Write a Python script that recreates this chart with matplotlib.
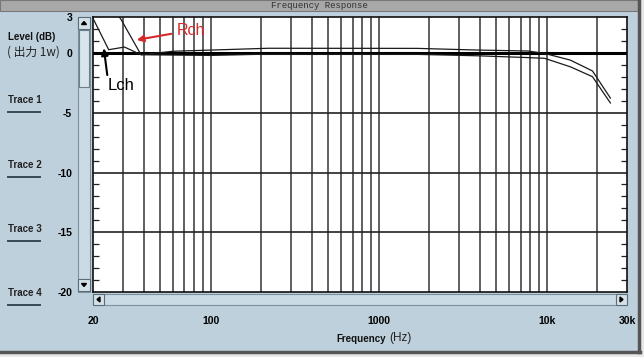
import matplotlib.pyplot as plt
import numpy as np
from matplotlib.patches import Rectangle, Polygon
from matplotlib.ticker import FixedLocator, NullFormatter

plt.rcParams['axes.unicode_minus'] = False

# data
lch_f = [20, 24.8, 30.8, 38.6, 100, 200, 1700, 3900, 7700, 9700, 13800, 18700, 23900]
lch_db = [2.9, 0.28, 0.5, -0.14, -0.2, -0.1, -0.11, -0.23, -0.38, -0.44, -1.15, -1.98, -4.18]
rch_f = [20, 25, 29.4, 38.6, 60, 220, 1700, 3900, 7700, 9700, 13800, 18700, 23900]
rch_db = [5.5, 4.2, 2.8, -0.14, 0.15, 0.4, 0.39, 0.25, 0.17, -0.03, -0.59, -1.5, -3.77]

xticks = [20, 100, 1000, 10000, 30000]
xticklabels = ['20', '100', '1000', '10k', '30k']
yticks = [3, 0, -5, -10, -15, -20]
trace_names = ['Trace 1', 'Trace 2', 'Trace 3', 'Trace 4']
trace_y = [100, 165, 229, 293]

W, H = 644, 357
bgc = '#bdd0dc'
fig = plt.figure(figsize=(W / 100, H / 100), dpi=100)
fig.patch.set_facecolor('#e8e8e8')

# window decoration in pixel coords
bg = fig.add_axes([0, 0, 1, 1], zorder=0)
bg.set_xlim(0, W)
bg.set_ylim(H, 0)
bg.axis('off')
bg.add_patch(Rectangle((0, 0), 640, 352, facecolor=bgc, edgecolor='none'))
bg.plot([639, 639], [0, 352], color='#555555', lw=2.5)
bg.plot([0, 640], [351.5, 351.5], color='#555555', lw=2.5)
bg.add_patch(Rectangle((0, 0), 638, 11, facecolor='#a8a8a8', edgecolor='#777777', lw=0.8))
bg.text(319, 5.5, 'Frequency Response', ha='center', va='center', fontsize=6.5,
        family='Liberation Mono', color='#303030')

# vertical scrollbar
bg.add_patch(Rectangle((78, 17), 12, 275, facecolor='#cbdbe5', edgecolor='#7d8f9a', lw=0.8))
bg.add_patch(Rectangle((79, 30), 10, 57, facecolor='#d8e5ec', edgecolor='#6e808b', lw=0.8))
bg.add_patch(Rectangle((78, 17), 12, 12, facecolor='#d4e1e8', edgecolor='#5d6d77', lw=0.8))
bg.add_patch(Rectangle((78, 279), 12, 12, facecolor='#d4e1e8', edgecolor='#5d6d77', lw=0.8))
bg.add_patch(Polygon([(81.5, 24.5), (86.5, 24.5), (84, 21.5)], color='black'))
bg.add_patch(Polygon([(81.5, 283.5), (86.5, 283.5), (84, 286.5)], color='black'))
# horizontal scrollbar
bg.add_patch(Rectangle((93, 294), 534, 11, facecolor='#cbdbe5', edgecolor='#7d8f9a', lw=0.8))
bg.add_patch(Rectangle((93, 294), 11, 11, facecolor='#d4e1e8', edgecolor='#5d6d77', lw=0.8))
bg.add_patch(Rectangle((616, 294), 11, 11, facecolor='#d4e1e8', edgecolor='#5d6d77', lw=0.8))
bg.add_patch(Polygon([(100, 297), (100, 302), (97, 299.5)], color='black'))
bg.add_patch(Polygon([(620, 297), (620, 302), (623, 299.5)], color='black'))

# left panel labels
bg.text(8, 37, 'Level (dB)', ha='left', va='center', fontsize=7, fontweight='bold',
        family='Liberation Sans', color='#111111')
bg.text(7, 52, '( 出力 1w)', ha='left', va='center', fontsize=8.5,
        family=['Noto Sans CJK JP', 'DejaVu Sans'], color='#222222')
for name, ty in zip(trace_names, trace_y):
    bg.text(8, ty, name, ha='left', va='center', fontsize=7, fontweight='bold',
            family='Liberation Sans', color='#222222')
    bg.plot([8, 40], [ty + 12, ty + 12], color='#3a4a55', lw=1.4)

bg.text(336, 339, 'Frequency', ha='left', va='center', fontsize=7, fontweight='bold',
        family='Liberation Sans', color='#111111')
bg.text(389, 338, '(Hz)', ha='left', va='center', fontsize=8.5,
        family='Liberation Sans', color='#222222')

# main plot
x0, x1, y0, y1 = 93, 627, 17.2, 292
ax = fig.add_axes([x0 / W, 1 - y1 / H, (x1 - x0) / W, (y1 - y0) / H], zorder=1)
ax.set_facecolor('white')
ax.set_xscale('log')
ax.set_xlim(20, 30000)
ax.set_ylim(-20, 3)

minor_x = [m * 10 ** e for e in range(1, 5) for m in range(1, 10)]
minor_x = [v for v in minor_x if 20 < v < 30000]
for v in minor_x:
    ax.axvline(v, color='#444444', lw=1.2, zorder=1)
for v in [-5, -10, -15]:
    ax.axhline(v, color='#222222', lw=1.2, zorder=1)

ax.axhline(0, color='black', lw=2.2, zorder=3)
ax.plot(lch_f, lch_db, color='#1a1a1a', lw=0.9, zorder=4)
ax.plot(rch_f, rch_db, color='#1a1a1a', lw=0.9, zorder=4)

ax.xaxis.set_major_locator(FixedLocator(xticks))
ax.set_xticklabels(xticklabels)
ax.xaxis.set_minor_formatter(NullFormatter())
ax.tick_params(axis='x', which='both', length=0, pad=17, labelsize=7.5)
ax.set_yticks(yticks)
ax.yaxis.set_minor_locator(FixedLocator(np.arange(-20, 4, 1)))
ax.tick_params(axis='y', which='major', length=0, pad=15, labelsize=7.5)
ax.tick_params(axis='y', which='minor', direction='in', length=4.5, width=0.9,
               left=True, right=True, color='#222222')
for lab in ax.get_xticklabels() + ax.get_yticklabels():
    lab.set_fontweight('bold')
    lab.set_family('Liberation Sans')
for s in ax.spines.values():
    s.set_linewidth(1.2)
    s.set_color('#111111')

ax.annotate('Rch', xy=(36.4, 1.1), xytext=(63, 1.9), color='#d42a2a', fontsize=11.5,
            va='center', ha='left', family='Liberation Sans', zorder=6,
            arrowprops=dict(arrowstyle='-|>', color='#d42a2a', lw=1.5, mutation_scale=10,
                            shrinkA=2, shrinkB=0))
ax.annotate('Lch', xy=(23.2, 0.4), xytext=(24.5, -2.7), color='black', fontsize=12,
            va='center', ha='left', family='Liberation Sans', zorder=6,
            arrowprops=dict(arrowstyle='-|>', color='black', lw=1.5, mutation_scale=10,
                            shrinkA=0, shrinkB=0, relpos=(0, 0.9)))

fig.savefig('out.png', dpi=100, facecolor=fig.get_facecolor())
